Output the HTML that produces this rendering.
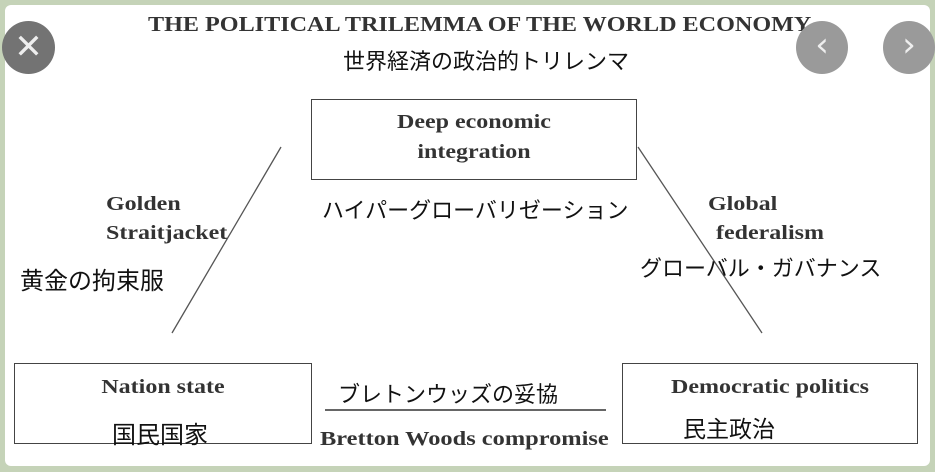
<!DOCTYPE html>
<html><head><meta charset="utf-8"><style>
html,body{margin:0;padding:0;}
body{width:935px;height:472px;background:#c5d3b8;position:relative;overflow:hidden;}
.in{position:absolute;left:5px;top:5px;width:925px;height:461px;background:#fff;border-radius:6px;}
.t{position:absolute;white-space:nowrap;color:#222;}
.s{font-family:"Liberation Serif",serif;font-weight:bold;color:#333;transform:scaleX(1.2);transform-origin:left center;}
.sc{transform-origin:center center;}
.j{font-family:"Liberation Sans","Noto Sans CJK JP",sans-serif;color:#111;}
.box{position:absolute;border:1.5px solid #444;box-sizing:border-box;}
.c{position:absolute;border-radius:50%;}
</style></head><body>
<div class="in"></div>
<div class="t s" style="left:148px;top:12px;font-size:21px;transform:scaleX(1.15);">THE POLITICAL TRILEMMA OF THE WORLD ECONOMY</div>
<div class="t j" style="left:343px;top:44px;font-size:22px;">世界経済の政治的トリレンマ</div>
<div class="box" style="left:311px;top:99px;width:326px;height:81px;"></div>
<div class="t s sc" style="left:311px;width:326px;text-align:center;top:111px;font-size:20px;">Deep economic</div>
<div class="t s sc" style="left:311px;width:326px;text-align:center;top:141px;font-size:20px;">integration</div>
<svg style="position:absolute;left:0;top:0" width="935" height="472">
<line x1="281" y1="147" x2="172" y2="333" stroke="#555" stroke-width="1.3"/>
<line x1="638" y1="147" x2="762" y2="333" stroke="#555" stroke-width="1.3"/>
<line x1="325" y1="410" x2="606" y2="410" stroke="#666" stroke-width="2"/>
</svg>
<div class="t s" style="left:106px;top:193px;font-size:20px;">Golden</div>
<div class="t s" style="left:106px;top:222px;font-size:20px;">Straitjacket</div>
<div class="t j" style="left:20px;top:261px;font-size:24px;">黄金の拘束服</div>
<div class="t j" style="left:322px;top:193px;font-size:22px;">ハイパーグローバリゼーション</div>
<div class="t s" style="left:708px;top:193px;font-size:20px;">Global</div>
<div class="t s" style="left:716px;top:222px;font-size:20px;">federalism</div>
<div class="t j" style="left:640px;top:251px;font-size:22px;">グローバル・ガバナンス</div>
<div class="box" style="left:14px;top:363px;width:298px;height:81px;"></div>
<div class="t s sc" style="left:14px;width:298px;text-align:center;top:376px;font-size:20px;">Nation state</div>
<div class="t j" style="left:112px;top:415px;font-size:24px;">国民国家</div>
<div class="box" style="left:622px;top:363px;width:296px;height:81px;"></div>
<div class="t s sc" style="left:622px;width:296px;text-align:center;top:376px;font-size:20px;">Democratic politics</div>
<div class="t j" style="left:683px;top:410px;font-size:23px;">民主政治</div>
<div class="t j" style="left:338px;top:377px;font-size:22px;">ブレトンウッズの妥協</div>
<div class="t s" style="left:320px;top:428px;font-size:20px;transform:scaleX(1.22);">Bretton Woods compromise</div>
<div class="c" style="left:2px;top:21px;width:53px;height:53px;background:#737373;"></div>
<div class="t" style="left:2px;top:21px;width:53px;line-height:53px;text-align:center;color:#eee;font-family:'DejaVu Sans',sans-serif;font-size:34px;">✕</div>
<div class="c" style="left:796px;top:21px;width:52px;height:53px;background:#9a9a9a;"></div>
<div class="t" style="left:796px;top:19px;width:52px;line-height:53px;text-align:center;color:#eee;font-family:'DejaVu Sans',sans-serif;font-size:34px;">‹</div>
<div class="c" style="left:883px;top:21px;width:52px;height:53px;background:#9a9a9a;"></div>
<div class="t" style="left:883px;top:19px;width:52px;line-height:53px;text-align:center;color:#eee;font-family:'DejaVu Sans',sans-serif;font-size:34px;">›</div>
</body></html>
